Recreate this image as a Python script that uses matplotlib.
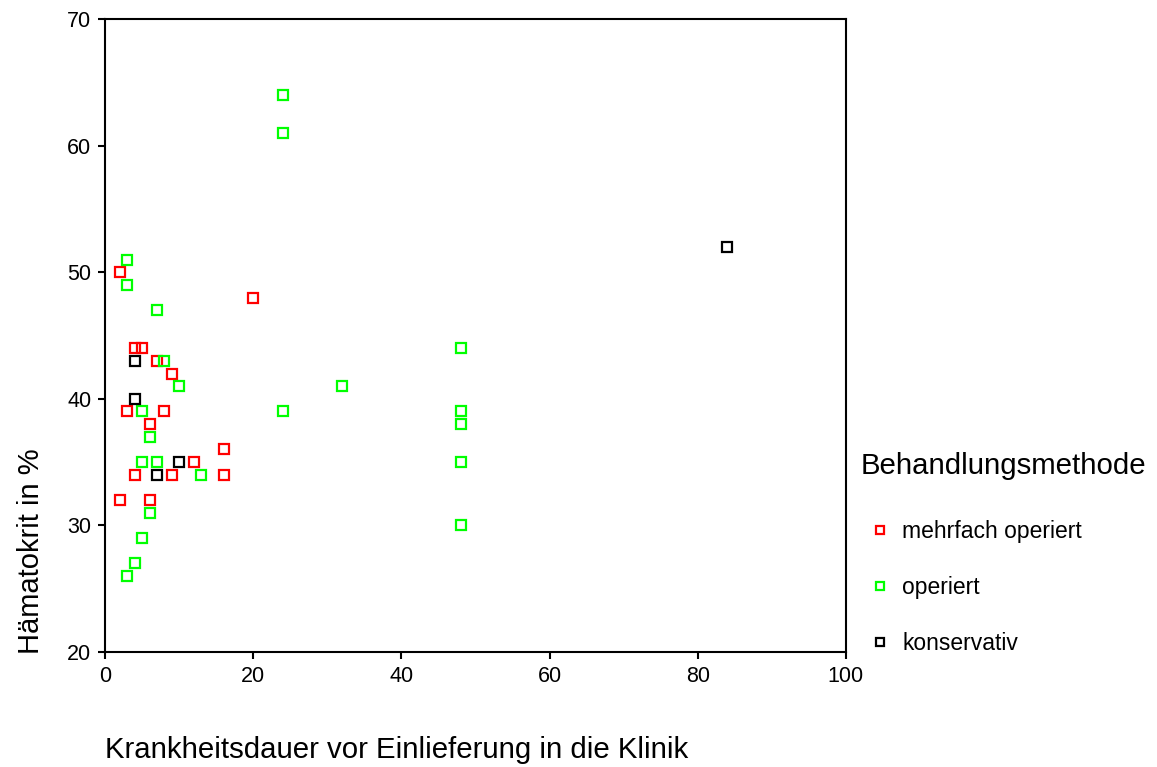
import matplotlib
matplotlib.use("Agg")
import matplotlib.pyplot as plt

plt.rcParams['font.family'] = ['Liberation Sans', 'DejaVu Sans']

# Krankheitsdauer (x) und Hämatokrit (y) je Behandlungsmethode
mehrfach_x = [2, 20, 4, 5, 7, 9, 3, 8, 6, 16, 12, 4, 9, 16, 2, 6]
mehrfach_y = [50, 48, 44, 44, 43, 42, 39, 39, 38, 36, 35, 34, 34, 34, 32, 32]

operiert_x = [24, 24, 3, 3, 7, 8, 10, 32, 48, 5, 24, 48, 48, 6, 5, 7, 13, 48, 6, 48, 5, 4, 3]
operiert_y = [64, 61, 51, 49, 47, 43, 41, 41, 44, 39, 39, 39, 38, 37, 35, 35, 34, 35, 31, 30, 29, 27, 26]

konservativ_x = [84, 4, 4, 10, 7]
konservativ_y = [52, 43, 40, 35, 34]

labels = ["mehrfach operiert", "operiert", "konservativ"]
colors = ["#ff0000", "#00ff00", "#000000"]

x_ticks = [0, 20, 40, 60, 80, 100]
y_ticks = [20, 30, 40, 50, 60, 70]

fig = plt.figure(figsize=(11.57, 7.67), dpi=100)
ax = fig.add_axes([0.0908, 0.150, 0.6403, 0.825])

series = [(mehrfach_x, mehrfach_y), (operiert_x, operiert_y), (konservativ_x, konservativ_y)]
for (xs, ys), lab, col in zip(series, labels, colors):
    ax.plot(xs, ys, linestyle='none', marker='s', markersize=7.0,
            markerfacecolor='none', markeredgecolor=col, markeredgewidth=1.6,
            label=lab)

ax.set_xlim(0, 100)
ax.set_ylim(20, 70)
ax.set_xticks(x_ticks)
ax.set_yticks(y_ticks)
ax.tick_params(direction='out', length=5, width=1.5, labelsize=15.5,
               colors='black', pad=5)
for s in ax.spines.values():
    s.set_linewidth(1.5)

ax.set_xlabel("Krankheitsdauer vor Einlieferung in die Klinik", fontsize=21.2)
ax.xaxis.set_label_coords(0.0, -0.155)
ax.xaxis.label.set_horizontalalignment('left')
ax.xaxis.label.set_verticalalignment('center')
ax.set_ylabel("Hämatokrit in %", fontsize=21)
ax.yaxis.set_label_coords(-0.1, 0.16)
ax.yaxis.label.set_verticalalignment('center')

leg = ax.legend(title="Behandlungsmethode", loc='upper left',
                bbox_to_anchor=(0.744, 0.411), bbox_transform=fig.transFigure,
                frameon=False, fontsize=16.5, title_fontsize=21.2,
                markerscale=0.8, handlelength=1.65, handletextpad=0.15,
                labelspacing=1.45, borderaxespad=0, borderpad=0,
                alignment='left')
leg._legend_box.sep = 29

fig.savefig("out.png", dpi=100)
